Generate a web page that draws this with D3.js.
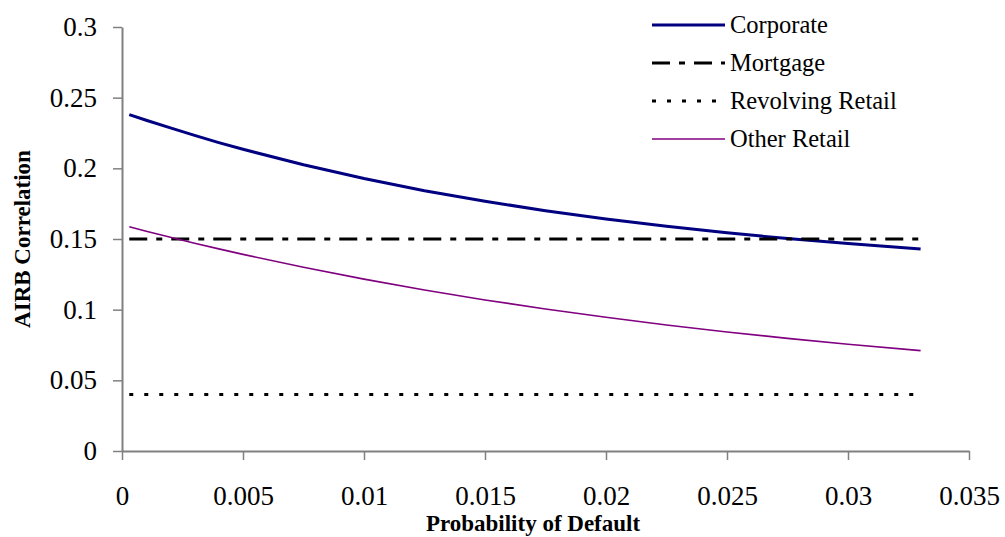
<!DOCTYPE html>
<html lang="en">
<head>
    <script src="https://d3js.org/d3.v7.min.js"></script>
    <title>AIRB Correlation</title>
    <style>
        body { margin: 0; background: #fff; }
        svg text { font-family: "Liberation Serif", "Times New Roman", "DejaVu Serif", serif; fill: #000; }
    </style>
</head>
<body>
    <div id="container"></div>
    <script>
        // probability of default (x values)
        const pd = [0.0003, 0.001, 0.002, 0.003, 0.004, 0.005, 0.0075, 0.01, 0.0125, 0.015,
                    0.0175, 0.02, 0.0225, 0.025, 0.0275, 0.03, 0.033];
        const corporate = [0.238, 0.234, 0.2286, 0.2233, 0.2182, 0.2135, 0.2025, 0.1928, 0.1842, 0.1767,
                           0.170, 0.1641, 0.159, 0.1544, 0.1503, 0.1468, 0.143];
        const mortgage = pd.map(() => 0.15);
        const revolving = pd.map(() => 0.04);
        const otherRetail = [0.1586, 0.1555, 0.1512, 0.147, 0.143, 0.1391, 0.130, 0.1216, 0.1139, 0.1069,
                             0.1005, 0.0946, 0.0891, 0.0842, 0.0797, 0.0755, 0.071];
        const seriesNames = ["Corporate", "Mortgage", "Revolving Retail", "Other Retail"];
        const xTicks = [0, 0.005, 0.01, 0.015, 0.02, 0.025, 0.03, 0.035];
        const yTicks = [0, 0.05, 0.1, 0.15, 0.2, 0.25, 0.3];

        const W = 1005, H = 537;
        const plotLeft = 122, plotRight = 969, plotTop = 27, plotBottom = 451;

        const styles = [
            { color: "#000080", width: 3, dash: null },
            { color: "#000", width: 3, dash: "18,9,6,9" },
            { color: "#000", width: 3, dash: "4,11" },
            { color: "#800080", width: 1.6, dash: null }
        ];
        const allSeries = [corporate, mortgage, revolving, otherRetail];

        const svg = d3.select("#container").append("svg").attr("width", W).attr("height", H);

        const x = d3.scaleLinear().domain([0, 0.035]).range([plotLeft, plotRight]);
        const y = d3.scaleLinear().domain([0, 0.3]).range([plotBottom, plotTop]);

        const xAxis = d3.axisBottom(x).tickValues(xTicks).tickSize(9).tickSizeOuter(0).tickPadding(26)
                        .tickFormat(d => d === 0 ? "0" : String(+d.toFixed(3)));
        const yAxis = d3.axisLeft(y).tickValues(yTicks).tickSize(9).tickSizeOuter(0).tickPadding(16)
                        .tickFormat(d => d === 0 ? "0" : String(+d.toFixed(2)));

        const gx = svg.append("g").attr("transform", "translate(0," + plotBottom + ")").call(xAxis);
        const gy = svg.append("g").attr("transform", "translate(" + plotLeft + ",0)").call(yAxis);
        [gx, gy].forEach(g => {
            g.attr("font-family", null);
            g.select(".domain").attr("stroke", "#808080").attr("stroke-width", 2);
            g.selectAll(".tick line").attr("stroke", "#808080").attr("stroke-width", 1.5);
            g.selectAll(".tick text").attr("font-size", 27).attr("fill", "#000");
        });

        const line = d3.line().x((d, i) => x(pd[i])).y(d => y(d));
        allSeries.forEach((s, k) => {
            svg.append("path").datum(s)
               .attr("fill", "none")
               .attr("stroke", styles[k].color)
               .attr("stroke-width", styles[k].width)
               .attr("stroke-dasharray", styles[k].dash)
               .attr("d", line);
        });

        // axis titles
        svg.append("text").attr("x", 533).attr("y", 531)
           .attr("text-anchor", "middle").attr("font-weight", "bold").attr("font-size", 23)
           .text("Probability of Default");
        svg.append("text").attr("transform", "translate(30,239) rotate(-90)")
           .attr("text-anchor", "middle").attr("font-weight", "bold").attr("font-size", 23)
           .text("AIRB Correlation");

        // legend
        const legend = svg.append("g");
        seriesNames.forEach((name, k) => {
            const ly = 25 + k * 38;
            legend.append("line").attr("x1", 652).attr("x2", 725).attr("y1", ly).attr("y2", ly)
                  .attr("stroke", styles[k].color)
                  .attr("stroke-width", styles[k].width)
                  .attr("stroke-dasharray", styles[k].dash);
            legend.append("text").attr("x", 730).attr("y", ly + 8).attr("font-size", 24.5).text(name);
        });
    </script>
</body>
</html>
